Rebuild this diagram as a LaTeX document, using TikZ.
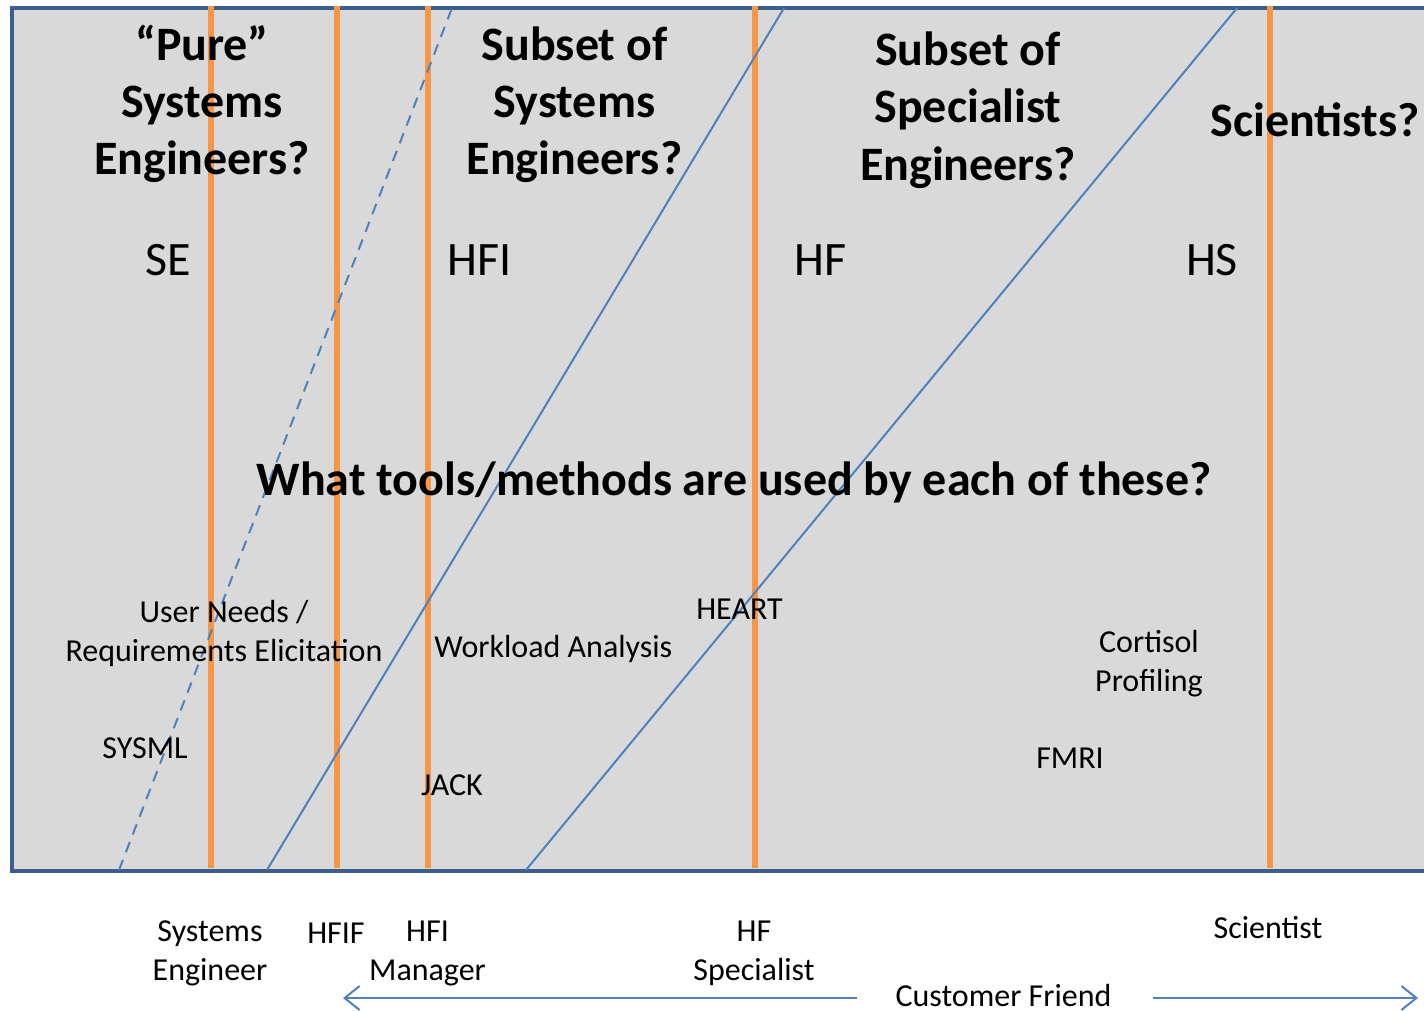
\documentclass[tikz,border=0pt]{standalone}
\usepackage{fontspec}
\setmainfont{Carlito}
\usetikzlibrary{arrows.meta}
\definecolor{boxfill}{HTML}{D9D9D9}
\definecolor{boxline}{HTML}{3A5F8E}
\definecolor{orng}{HTML}{F79646}
\definecolor{diag}{HTML}{4F81BD}
\begin{document}
\begin{tikzpicture}[x=0.5pt,y=-0.5pt,
  big/.style={font=\fontsize{24}{28.75}\selectfont\bfseries, align=center, inner sep=0pt, anchor=base},
  mid/.style={font=\fontsize{24}{28.75}\selectfont, inner sep=0pt, anchor=base},
  small/.style={font=\fontsize{16}{19.25}\selectfont, align=center, inner sep=0pt, anchor=base},
  divider/.style={orng, line width=3pt},
  slant/.style={diag, line width=1pt},
  flow/.style={diag, line width=1pt, -{Straight Barb[length=7.5pt, width=12pt, line width=1pt]}},
  ]
\useasboundingbox (0,0) rectangle (1424,1011);
\clip (0,0) rectangle (1424,1011);
% panel
\fill[boxfill] (12,8) rectangle (1440,871);
\draw[boxline, line width=2pt] (12,8) rectangle (1440,871);
% orange dividers
\foreach \n/\x in {a/211, b/337, c/428, d/755, e/1270} {
  \coordinate (top\n) at (\x,6);
  \coordinate (bot\n) at (\x,868);
  \draw[divider] (top\n) -- (bot\n);
}
% slanted boundaries
\coordinate (d1b) at (119,870); \coordinate (d1t) at (452,8);
\coordinate (d2b) at (267,870); \coordinate (d2t) at (784,8);
\coordinate (d3b) at (526,870); \coordinate (d3t) at (1237,8);
\draw[slant, dash pattern=on 5.5pt off 4pt] (d1b) -- (d1t);
\draw[slant] (d2b) -- (d2t);
\draw[slant] (d3b) -- (d3t);
% headings (anchor = baseline of last line)
\node[big] (pure) at (202,175) {“Pure”\\Systems\\Engineers?};
\node[big] (subse) at (574.5,175) {Subset of\\Systems\\Engineers?};
\node[big] (subsp) at (968,180) {Subset of\\Specialist\\Engineers?};
\node[big] (sci) at (1315,137) {Scientists?};
\node[mid] (se) at (168,275) {SE};
\node[mid, anchor=base west] (hfi) at (447,275) {HFI};
\node[mid, anchor=base west] (hf) at (794,275) {HF};
\node[mid] (hs) at (1212,275) {HS};
\node[big] (question) at (734,495) {What tools/methods are used by each of these?};
% tools
\node[small] (userneeds) at (224,661) {User Needs /\\Requirements Elicitation};
\node[small] (sysml) at (145,758) {SYSML};
\node[small, anchor=base west] (workload) at (434,657) {Workload Analysis};
\node[small] (jack) at (452,795) {JACK};
\node[small] (heart) at (739.5,619) {HEART};
\node[small] (cortisol) at (1149,691) {Cortisol\\Profiling};
\node[small] (fmri) at (1070,768) {FMRI};
% roles
\node[small] (syseng) at (210,980) {Systems\\Engineer};
\node[small] (hfif) at (336,943) {HFIF};
\node[small] (hfimgr) at (427.5,980) {HFI\\Manager};
\node[small] (hfspec) at (754,980) {HF\\Specialist};
\node[small] (scientist) at (1268,938) {Scientist};
\node[small] (custfriend) at (1003.5,1006) {Customer Friend};
\coordinate (lefttail) at (857,998); \coordinate (lefthead) at (343,998);
\coordinate (righttail) at (1153,998); \coordinate (righthead) at (1418,998);
\draw[flow] (lefttail) -- (lefthead);
\draw[flow] (righttail) -- (righthead);
\end{tikzpicture}
\end{document}
